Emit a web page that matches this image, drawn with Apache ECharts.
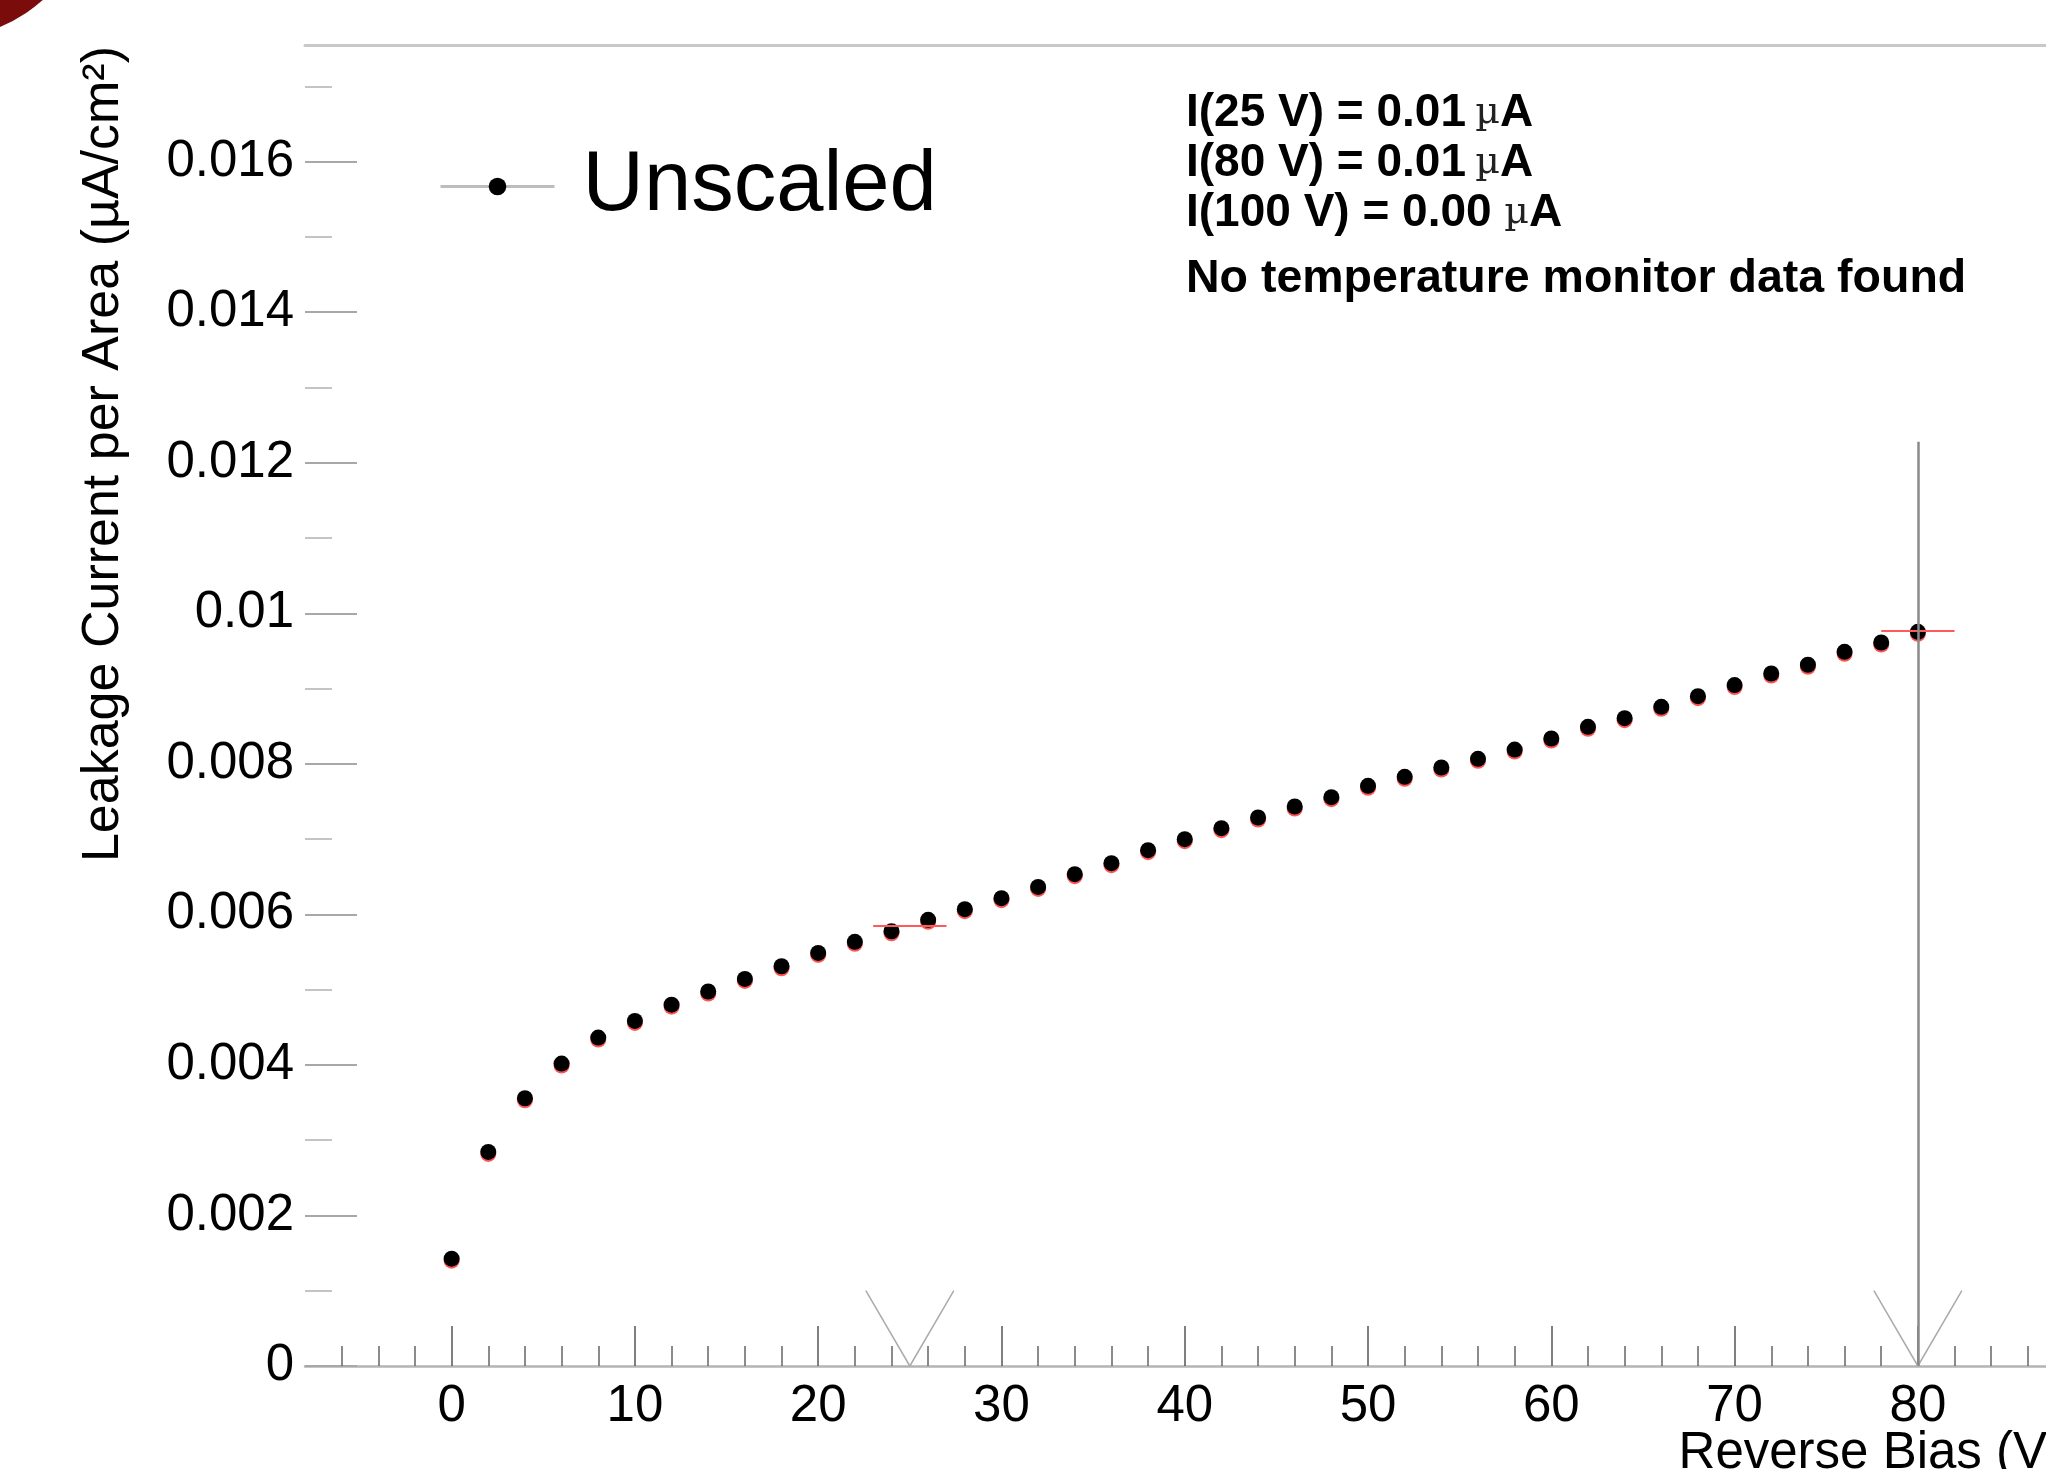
<!DOCTYPE html>
<html>
<head>
<meta charset="utf-8">
<script src="https://cdn.jsdelivr.net/npm/echarts@6/dist/echarts.min.js"></script>
<style>
  html, body { margin: 0; padding: 0; background: #fff; }
  #chart { width: 2046px; height: 1469px; }
</style>
</head>
<body>
<div id="chart"></div>
<script>
  // values
  var biasVolts = [0, 2, 4, 6, 8, 10, 12, 14, 16, 18, 20, 22, 24, 26, 28, 30, 32, 34, 36, 38,
    40, 42, 44, 46, 48, 50, 52, 54, 56, 58, 60, 62, 64, 66, 68, 70, 72, 74, 76, 78, 80];
  var currentPerArea = [0.001426, 0.002844, 0.003557, 0.004018, 0.004363, 0.004585, 0.004801,
    0.004975, 0.005143, 0.005311, 0.005488, 0.005635, 0.005776, 0.005927, 0.006069, 0.006215,
    0.006365, 0.006534, 0.006680, 0.006853, 0.006999, 0.007145, 0.007287, 0.007433, 0.007557,
    0.007708, 0.007827, 0.007951, 0.008067, 0.008190, 0.008337, 0.008492, 0.008607, 0.008757,
    0.008899, 0.009046, 0.009200, 0.009316, 0.009488, 0.009612, 0.009754];

  // axis ticks
  var xTickValues = [0, 10, 20, 30, 40, 50, 60, 70, 80];
  var xMinorTicks = [-6, -4, -2, 2, 4, 6, 8, 12, 14, 16, 18, 22, 24, 26, 28, 32, 34, 36, 38,
    42, 44, 46, 48, 52, 54, 56, 58, 62, 64, 66, 68, 72, 74, 76, 78, 82, 84, 86];
  var yTickValues = [0, 0.002, 0.004, 0.006, 0.008, 0.01, 0.012, 0.014, 0.016];
  var yMinorTicks = [0.001, 0.003, 0.005, 0.007, 0.009, 0.011, 0.013, 0.015, 0.017];

  // reference voltages and the interpolated current there
  var refVolts = [25, 80];
  var refCurrents = [0.005852, 0.009764];
  var cutLineTop = 0.01228;

  var infoLines = ['I(25 V) = 0.01\u2009{u|µ}A', 'I(80 V) = 0.01\u2009{u|µ}A', 'I(100 V) = 0.00 {u|µ}A'];
  var noteText = 'No temperature monitor data found';

  var FONT = '"Liberation Sans", Arial, Helvetica, sans-serif';
  var xMin = -8, xMax = 88, yMin = 0, yMax = 0.01755;

  var points = biasVolts.map(function (v, i) { return [v, currentPerArea[i]]; });

  // V markers, red segments and the cut line
  var refMarks = [];
  refVolts.forEach(function (v, i) {
    refMarks.push([{ coord: [v - 2.4, 0.001] }, { coord: [v, 0] }]);
    refMarks.push([{ coord: [v, 0] }, { coord: [v + 2.4, 0.001] }]);
    refMarks.push([{ coord: [v - 2, refCurrents[i]], lineStyle: { color: '#ff5a5a', width: 2 } },
      { coord: [v + 2, refCurrents[i]] }]);
  });
  refMarks.push([{ coord: [80, 0], lineStyle: { color: '#8a8a8a', width: 2.5 } }, { coord: [80, cutLineTop] }]);

  var chart = echarts.init(document.getElementById('chart'));

  var graphics = [
    { type: 'circle', shape: { cx: -60, cy: -116, r: 155 }, style: { fill: '#7b0c0c' }, silent: true },
    {
      type: 'text', x: 104, y: 46, rotation: Math.PI / 2, silent: true,
      style: { text: 'Leakage Current per Area (µA/cm²)', font: '52px ' + FONT, fill: '#000', align: 'right', verticalAlign: 'middle' }
    },
    {
      type: 'text', x: 2064, y: 1428, silent: true,
      style: { text: 'Reverse Bias (V)', font: '51px ' + FONT, fill: '#000', align: 'right', verticalAlign: 'top' }
    }
  ];
  var lineY = [113, 163, 213];
  infoLines.forEach(function (t, i) {
    graphics.push({
      type: 'text', x: 1186, y: lineY[i], silent: true,
      style: {
        text: t, fill: '#000', verticalAlign: 'middle',
        fontFamily: FONT, fontWeight: 'bold', fontSize: 46,
        rich: { u: { fontFamily: '"DejaVu Serif", serif', fontWeight: 'normal', fontSize: 38, fill: '#222' } }
      }
    });
  });
  graphics.push({
    type: 'text', x: 1186, y: 279, silent: true,
    style: { text: noteText, fill: '#000', verticalAlign: 'middle', fontFamily: FONT, fontWeight: 'bold', fontSize: 46.5 }
  });

  var option = {
    animation: false,
    backgroundColor: '#fff',
    grid: { left: 305, top: 45, width: 1759.5, height: 1321, containLabel: false, outerBoundsMode: 'none' },
    legend: {
      left: 434, top: 139,
      data: ['Unscaled'],
      itemWidth: 114, itemHeight: 22,
      lineStyle: { color: '#bdbdbd', width: 3, opacity: 1 },
      textStyle: { fontSize: 85, fontFamily: FONT, color: '#000', padding: [0, 0, 0, 23] },
      selectedMode: false
    },
    xAxis: [
      {
        type: 'value', min: xMin, max: xMax, position: 'bottom',
        axisLine: { show: true, onZero: false, lineStyle: { color: '#b4b4b4', width: 2.5 } },
        axisTick: { show: true, inside: true, length: 40, customValues: xTickValues, lineStyle: { color: '#555', width: 1.5 } },
        axisLabel: { show: true, customValues: xTickValues, margin: 15, fontSize: 51, fontFamily: FONT, color: '#000' },
        splitLine: { show: false }
      },
      {
        type: 'value', min: xMin, max: xMax, position: 'bottom',
        axisLine: { show: false, onZero: false },
        axisTick: { show: true, inside: true, length: 20, customValues: xMinorTicks, lineStyle: { color: '#666', width: 1.5 } },
        axisLabel: { show: false },
        splitLine: { show: false }
      },
      {
        type: 'value', min: xMin, max: xMax, position: 'top',
        axisLine: { show: true, onZero: false, lineStyle: { color: '#c8c8c8', width: 3 } },
        axisTick: { show: false }, axisLabel: { show: false }, splitLine: { show: false }
      }
    ],
    yAxis: [
      {
        type: 'value', min: yMin, max: yMax, position: 'left',
        axisLine: { show: false, onZero: false },
        axisTick: { show: true, inside: true, length: 52, customValues: yTickValues, lineStyle: { color: '#a8a8a8', width: 2 } },
        axisLabel: { show: true, customValues: yTickValues, margin: 11, padding: [8, 0, 0, 0], fontSize: 51, fontFamily: FONT, color: '#000' },
        splitLine: { show: false }
      },
      {
        type: 'value', min: yMin, max: yMax, position: 'left',
        axisLine: { show: false, onZero: false },
        axisTick: { show: true, inside: true, length: 27, customValues: yMinorTicks, lineStyle: { color: '#c4c4c4', width: 2 } },
        axisLabel: { show: false },
        splitLine: { show: false }
      }
    ],
    series: [
      {
        // red marker drawn under each black one
        type: 'scatter', name: 'shadow', data: points, z: 2, silent: true,
        symbol: 'circle', symbolSize: 16, symbolOffset: [0, 2],
        itemStyle: { color: '#ff2a2a' },
        markLine: {
          silent: true, symbol: 'none', animation: false,
          label: { show: false },
          lineStyle: { color: '#ababab', width: 1.5, type: 'solid' },
          emphasis: { disabled: true },
          data: refMarks
        }
      },
      {
        type: 'line', name: 'Unscaled', data: points, z: 3, silent: true,
        symbol: 'circle', symbolSize: 16, showSymbol: true,
        lineStyle: { width: 0, opacity: 0 },
        itemStyle: { color: '#000' }
      }
    ],
    graphic: graphics
  };

  chart.setOption(option);
</script>
</body>
</html>
